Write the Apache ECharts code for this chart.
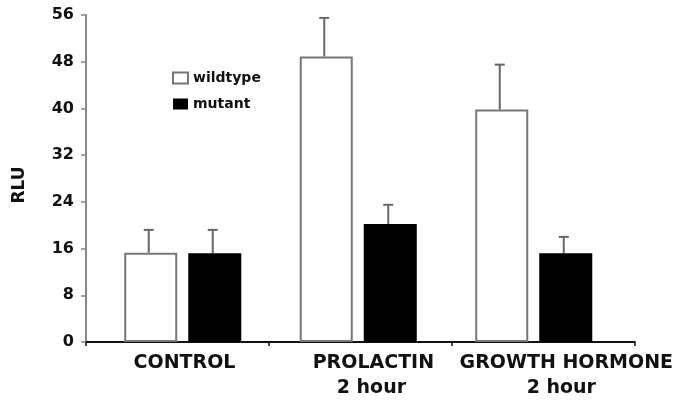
<!DOCTYPE html>
<html>
<head>
<meta charset="utf-8">
<script src="https://cdn.jsdelivr.net/npm/echarts@6/dist/echarts.min.js"></script>
<style>
html,body{margin:0;padding:0;background:#fff;}
#chart{width:676px;height:401px;}
</style>
</head>
<body>
<div id="chart"></div>
<script>
const categories = ['CONTROL', 'PROLACTIN\n2 hour', 'GROWTH HORMONE\n2 hour'];
const wildtype = [15.3, 48.9, 39.8];
const mutant = [15.2, 20.2, 15.2];
const wildtypeErr = [3.9, 6.6, 7.7];
const mutantErr = [4.0, 3.3, 2.8];
const yMin = 0, yMax = 56, yInterval = 8;

const FONT = 'DejaVu Sans';
const BAR_W = 53;
const BAR_GAP_PX = 11;
const halfOffset = (BAR_W + BAR_GAP_PX) / 2;

// label horizontal shifts (left padding)
const labelShift = [[14], [26, 22], [46, 36]];

function errRender(offset, color) {
  return function (params, api) {
    const base = api.coord([api.value(0), api.value(1)]);
    const top = api.coord([api.value(0), api.value(1) + api.value(2)]);
    const x = base[0] + offset - 2;
    return {
      type: 'group',
      children: [
        {type: 'line', shape: {x1: x, y1: base[1], x2: x, y2: top[1]}, style: {stroke: color, lineWidth: 2}},
        {type: 'line', shape: {x1: x - 5, y1: top[1], x2: x + 5, y2: top[1]}, style: {stroke: color, lineWidth: 2}}
      ]
    };
  };
}

const rich = {};
labelShift.forEach((arr, i) => {
  arr.forEach((p, j) => {
    rich['l' + i + '_' + j] = {
      fontFamily: FONT, fontWeight: 'bold', fontSize: 19, color: '#111',
      lineHeight: 25, padding: [0, 0, 0, p]
    };
  });
});

const chart = echarts.init(document.getElementById('chart'));
chart.setOption({
  animation: false,
  backgroundColor: '#fff',
  grid: [
    {left: 86, right: 41, top: 15, bottom: 59, containLabel: false},
    {left: 95, right: 54.5, top: 15, bottom: 59, containLabel: false}
  ],
  legend: {
    orient: 'vertical',
    left: 167,
    top: 66,
    itemWidth: 15,
    itemHeight: 11,
    itemGap: 12,
    icon: 'rect',
    data: ['wildtype', 'mutant'],
    textStyle: {fontFamily: FONT, fontWeight: 'bold', fontSize: 14, color: '#111'}
  },
  xAxis: [
    {
      type: 'category',
      gridIndex: 0,
      data: categories,
      axisLine: {show: true, lineStyle: {color: '#111', width: 2}},
      axisTick: {show: true, length: 4, lineStyle: {color: '#111', width: 1.5}},
      axisLabel: {
        margin: 9,
        interval: 0,
        formatter: function (val, idx) {
          return val.split('\n').map((s, j) => '{l' + idx + '_' + j + '|' + s + '}').join('\n');
        },
        rich: rich
      }
    },
    {
      type: 'category',
      gridIndex: 1,
      data: categories,
      show: false
    }
  ],
  yAxis: [
    {
      type: 'value',
      gridIndex: 0,
      min: yMin,
      max: yMax,
      interval: yInterval,
      name: 'RLU',
      nameLocation: 'middle',
      nameRotate: 90,
      nameGap: 58,
      nameTextStyle: {fontFamily: FONT, fontWeight: 'bold', fontSize: 17, color: '#111', padding: [0, 13, 0, 0]},
      axisLine: {show: true, lineStyle: {color: '#888', width: 2}},
      axisTick: {show: true, length: 5, lineStyle: {color: '#888', width: 1.5}},
      splitLine: {show: false},
      axisLabel: {fontFamily: FONT, fontWeight: 'bold', fontSize: 16, color: '#111', margin: 12}
    },
    {
      type: 'value',
      gridIndex: 1,
      min: yMin,
      max: yMax,
      interval: yInterval,
      show: false,
      splitLine: {show: false}
    }
  ],
  series: [
    {
      name: 'wildtype',
      type: 'bar',
      xAxisIndex: 1,
      yAxisIndex: 1,
      data: wildtype,
      barWidth: BAR_W,
      barGap: (BAR_GAP_PX / BAR_W * 100).toFixed(1) + '%',
      itemStyle: {color: '#fff', borderColor: '#777', borderWidth: 2},
      z: 3
    },
    {
      name: 'mutant',
      type: 'bar',
      xAxisIndex: 1,
      yAxisIndex: 1,
      data: mutant,
      barWidth: BAR_W,
      itemStyle: {color: '#000', borderColor: '#000', borderWidth: 0},
      z: 3
    },
    {
      type: 'custom',
      name: 'wtErr',
      xAxisIndex: 1,
      yAxisIndex: 1,
      renderItem: errRender(-halfOffset, '#666'),
      data: wildtype.map((v, i) => [i, v, wildtypeErr[i]]),
      encode: {x: 0, y: 1},
      z: 2
    },
    {
      type: 'custom',
      name: 'mutErr',
      xAxisIndex: 1,
      yAxisIndex: 1,
      renderItem: errRender(halfOffset, '#666'),
      data: mutant.map((v, i) => [i, v, mutantErr[i]]),
      encode: {x: 0, y: 1},
      z: 2
    }
  ]
});
</script>
</body>
</html>
